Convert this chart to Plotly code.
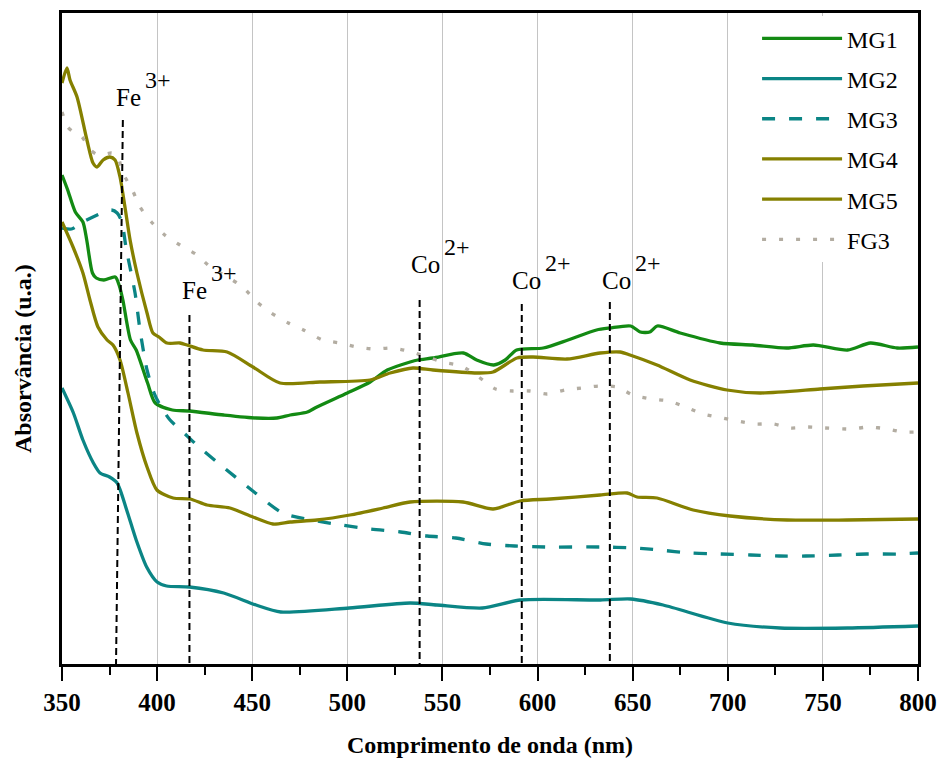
import plotly.graph_objects as go

# ---------------- data (wavelength in nm, absorbance in arbitrary units) ----------------
mg1_x = [350, 353, 357, 361, 363, 366, 368, 372, 378, 380, 382, 386, 389, 395, 399, 408, 417, 435,
         452, 463, 470, 479, 484, 500, 512, 521, 533, 537, 545, 561, 568, 577, 583, 589, 603, 616,
         631, 638, 649, 654, 659, 663, 675, 696, 713, 731, 745, 763, 775, 789, 800]
mg1_y = [.489, .474, .452, .442, .424, .391, .386, .384, .387, .379, .364, .324, .314, .281, .261,
         .254, .253, .249, .246, .246, .249, .252, .257, .271, .282, .294, .302, .304, .306, .311,
         .304, .299, .304, .314, .316, .324, .334, .336, .338, .332, .332, .338, .331, .321, .319,
         .316, .319, .314, .321, .316, .317]

mg2_x = [350, 356, 361, 366.5, 370, 375, 379, 384, 389, 394.5, 400, 405, 417, 435, 452, 465, 501,
         533, 547, 571, 591, 633, 649, 666, 700, 727.5, 763, 800]
mg2_y = [.276, .251, .224, .201, .191, .187, .181, .154, .124, .097, .082, .078, .077, .071, .059,
         .052, .056, .061, .059, .056, .064, .064, .065, .059, .041, .036, .036, .038]

mg3_x = [350, 355, 362, 372, 376, 379, 381.5, 383.6, 388.4, 391, 394.7, 398.4, 401.5, 406.8, 414.7,
         422, 436, 451, 466, 481, 497, 512, 528, 542, 557, 573, 588, 604, 633, 651, 664, 680, 696,
         712, 727, 741, 758, 773, 789.5, 800]
mg3_y = [.436, .435, .443, .452, .454, .451, .442, .417, .371, .334, .294, .271, .259, .244, .230,
         .217, .195, .172, .151, .144, .139, .135, .132, .128, .126, .120, .118, .117, .117, .116,
         .114, .111, .110, .109, .108, .108, .109, .110, .110, .111]

mg4_x = [350, 352.6, 354.2, 357.9, 363.1, 366.3, 368.4, 371.6, 375.2, 377.9, 380.5, 383.1, 385.8,
         389.4, 394.7, 397.8, 401, 405.2, 412, 415.7, 424.1, 436.8, 450.4, 464.6, 485.6, 511.9,
         522.5, 534.5, 545.1, 568.2, 576.6, 589.2, 597.6, 615.5, 632.9, 643.4, 648.6, 662.8, 680.2,
         699.6, 717, 748.5, 771.1, 800]
mg4_y = [.581, .596, .584, .567, .524, .501, .497, .504, .507, .504, .487, .457, .424, .391, .351,
         .331, .327, .321, .321, .319, .314, .312, .297, .281, .282, .284, .291, .296, .294, .291,
         .292, .306, .307, .305, .311, .312, .309, .299, .284, .274, .271, .275, .278, .281]

mg5_x = [350, 355.8, 361, 364.7, 368.9, 373.7, 376.8, 380.5, 384.7, 389.4, 394.7, 399.9, 408.4,
         417.3, 426.2, 438.3, 450.4, 460.9, 470, 484.1, 501.4, 518.8, 533, 560.8, 576.6, 590.8,
         606.6, 632.9, 647.1, 652.3, 662.8, 681.8, 701.2, 731.2, 762.7, 800]
mg5_y = [.442, .417, .391, .364, .337, .324, .319, .304, .271, .231, .197, .174, .166, .165, .159,
         .156, .147, .140, .142, .144, .149, .156, .162, .162, .155, .163, .165, .169, .171, .167,
         .166, .154, .148, .144, .144, .145]

fg3_x = [350, 353, 356, 360.5, 365, 369, 376, 379, 382, 387, 391, 397, 404, 412, 421, 428, 437, 445,
         452.5, 460, 469, 477, 487, 496, 505, 514, 523.5, 532, 542, 550, 560, 569, 578, 587, 596,
         605, 614.5, 623, 632, 642, 650, 660, 669, 679, 687, 697, 705, 714, 724, 733, 742, 751,
         765, 774, 784, 792, 800]
fg3_y = [.552, .537, .532, .527, .514, .509, .511, .509, .491, .474, .457, .442, .429, .419, .409,
         .397, .387, .377, .362, .351, .341, .334, .324, .321, .317, .315, .316, .313, .307, .302,
         .298, .287, .275, .273, .273, .270, .274, .276, .278, .277, .269, .265, .263, .256, .250,
         .246, .243, .240, .240, .236, .237, .236, .235, .237, .235, .232, .232]

# absorption band markers
band_x_top = [382, 417, 538, 591.7, 638]
band_x_bottom = [378.4, 417, 538, 591.7, 638]
band_y_top = [.544, .349, .364, .360, .362]
band_ion = ["Fe", "Fe", "Co", "Co", "Co"]
band_charge = ["3+", "3+", "2+", "2+", "2+"]
label_x = [392.5, 427.5, 549.8, 602.9, 650.2]
label_y = [.567, .374, .400, .384, .384]

x_ticks = [350, 400, 450, 500, 550, 600, 650, 700, 750, 800]

# ---------------- figure ----------------
FONT = "Liberation Serif, Times New Roman, serif"
GREEN = "#138a13"
TEAL = "#0b8585"
OLIVE = "#858000"
GRAY = "#b3ada2"

fig = go.Figure()

series = [
    ("MG1", mg1_x, mg1_y, GREEN, "solid"),
    ("MG2", mg2_x, mg2_y, TEAL, "solid"),
    ("MG3", mg3_x, mg3_y, TEAL, "13px,14px"),
    ("MG4", mg4_x, mg4_y, OLIVE, "solid"),
    ("MG5", mg5_x, mg5_y, OLIVE, "solid"),
    ("FG3", fg3_x, fg3_y, GRAY, "4px,13px"),
]
for name, xs, ys, col, dash in series:
    fig.add_trace(go.Scatter(
        x=xs, y=ys, name=name, mode="lines", legendgroup=name,
        line=dict(color=col, width=3.3, dash=dash, shape="spline", smoothing=0.7),
    ))

for i in range(len(band_x_top)):
    fig.add_trace(go.Scatter(
        x=[band_x_top[i], band_x_bottom[i]], y=[band_y_top[i], 0], mode="lines",
        line=dict(color="black", width=2, dash="7px,4px"),
        showlegend=False, hoverinfo="skip",
    ))
    fig.add_annotation(x=label_x[i], y=label_y[i], xref="x", yref="y", text=band_ion[i],
                       showarrow=False, xanchor="right", yanchor="middle",
                       font=dict(family=FONT, size=25, color="black"))
    fig.add_annotation(x=label_x[i], y=label_y[i], xref="x", yref="y", text=band_charge[i],
                       showarrow=False, xanchor="left", yanchor="middle", yshift=17,
                       font=dict(family=FONT, size=24, color="black"))

# y-axis title (placed as in the reference, slightly below the plot centre)
fig.add_annotation(x=-0.0456, y=0.47, xref="paper", yref="paper", text="Absorvância (u.a.)",
                   textangle=-90, showarrow=False, xanchor="center", yanchor="middle",
                   font=dict(family=FONT, size=24, color="black", weight="bold"))

fig.update_layout(
    width=939, height=758,
    margin=dict(l=62, r=21, t=13, b=94),
    paper_bgcolor="white", plot_bgcolor="white",
    font=dict(family=FONT, color="black"),
    legend=dict(x=0.812, y=0.995, xanchor="left", yanchor="top",
                bgcolor="white", borderwidth=0, tracegroupgap=6, itemwidth=80,
                font=dict(family=FONT, size=24, color="black")),
)
fig.update_xaxes(
    automargin=False,
    range=[350, 800], tickvals=x_ticks, ticks="outside", ticklen=14, tickwidth=2,
    tickcolor="black", showline=True, linewidth=2.5, linecolor="black", mirror=True,
    showgrid=True, gridcolor="#c4c4c4", gridwidth=1, zeroline=False,
    tickfont=dict(family=FONT, size=25, color="black", weight="bold"),
    minor=dict(dtick=25, ticks="outside", ticklen=8, tickwidth=2, tickcolor="black", showgrid=False),
    title=dict(text="Comprimento de onda (nm)",
               font=dict(family=FONT, size=24, weight="bold"), standoff=26),
)
fig.update_yaxes(
    automargin=False,
    range=[0, 0.651], showticklabels=False, ticks="", showgrid=False, zeroline=False,
    showline=True, linewidth=2.5, linecolor="black", mirror=True,
)

fig.write_html("out.html")
